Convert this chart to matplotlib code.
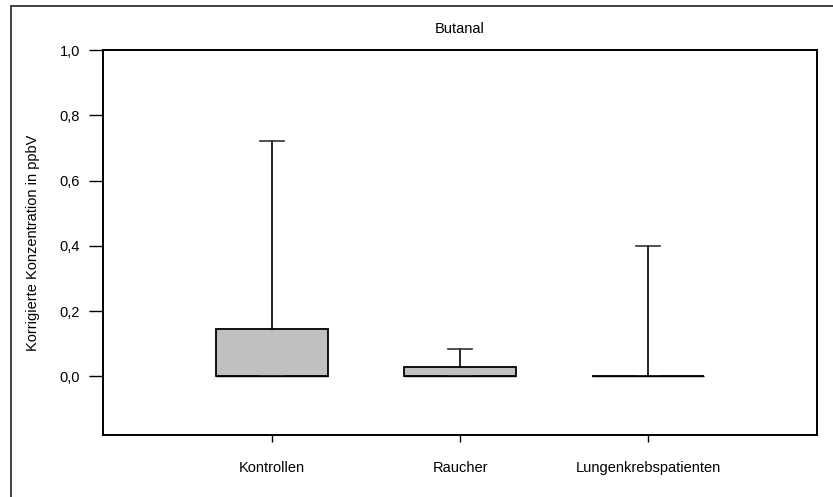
import matplotlib
matplotlib.use("Agg")
import matplotlib.pyplot as plt
from matplotlib.patches import Rectangle
from matplotlib.ticker import FixedLocator, FuncFormatter

plt.rcParams["font.family"] = ["Liberation Sans", "DejaVu Sans"]

# Werte (ppbV)
gruppen = ["Kontrollen", "Raucher", "Lungenkrebspatienten"]
q1 = [0.0, 0.0, 0.0]
median = [0.0, 0.0, 0.0]
q3 = [0.145, 0.027, 0.0]
whisker_unten = [0.0, 0.0, 0.0]
whisker_oben = [0.72, 0.085, 0.40]
y_ticks = [0.0, 0.2, 0.4, 0.6, 0.8, 1.0]

stats = [
    {"label": g, "q1": a, "med": m, "q3": b, "whislo": lo, "whishi": hi, "fliers": []}
    for g, a, m, b, lo, hi in zip(gruppen, q1, median, q3, whisker_unten, whisker_oben)
]

fig = plt.figure(figsize=(8.33, 4.97), dpi=100)
ax = fig.add_axes([103 / 833, 1 - 435 / 497, (817 - 103) / 833, (435 - 50) / 497])

ax.bxp(
    stats,
    positions=[1, 2, 3],
    widths=0.6,
    patch_artist=True,
    showfliers=False,
    boxprops=dict(facecolor="#c0c0c0", edgecolor="black", linewidth=1.3),
    medianprops=dict(color="black", linewidth=1.0),
    whiskerprops=dict(color="black", linewidth=1.2),
    capprops=dict(color="#333333", linewidth=1.2),
    capwidths=0.13,
)

ax.set_xlim(0.1, 3.9)
ax.set_ylim(-0.18, 1.0)
ax.yaxis.set_major_locator(FixedLocator(y_ticks))
ax.yaxis.set_major_formatter(FuncFormatter(lambda v, p: f"{v:.1f}".replace(".", ",")))
ax.set_xticks([1, 2, 3])
ax.set_xticklabels(gruppen)

ax.tick_params(axis="y", direction="out", length=10, width=1.0, pad=6.5, labelsize=10.5)
ax.tick_params(axis="x", direction="out", length=5, width=1.0, pad=14, labelsize=10.5)
for s in ax.spines.values():
    s.set_linewidth(1.4)

ax.set_title("Butanal", fontsize=10.5, pad=12)
ax.set_ylabel("Korrigierte Konzentration in ppbV", fontsize=10.5)
ax.yaxis.set_label_coords(-0.088, 0.5)

# Rahmen um die Grafik (rechts und unten abgeschnitten)
fig.patches.append(Rectangle((11 / 833, -0.1), 1.2, 1 - 6 / 497 + 0.1,
                             transform=fig.transFigure, fill=False,
                             edgecolor="#333333", linewidth=1.3))

plt.savefig("out.png", dpi=100)
plt.close(fig)
